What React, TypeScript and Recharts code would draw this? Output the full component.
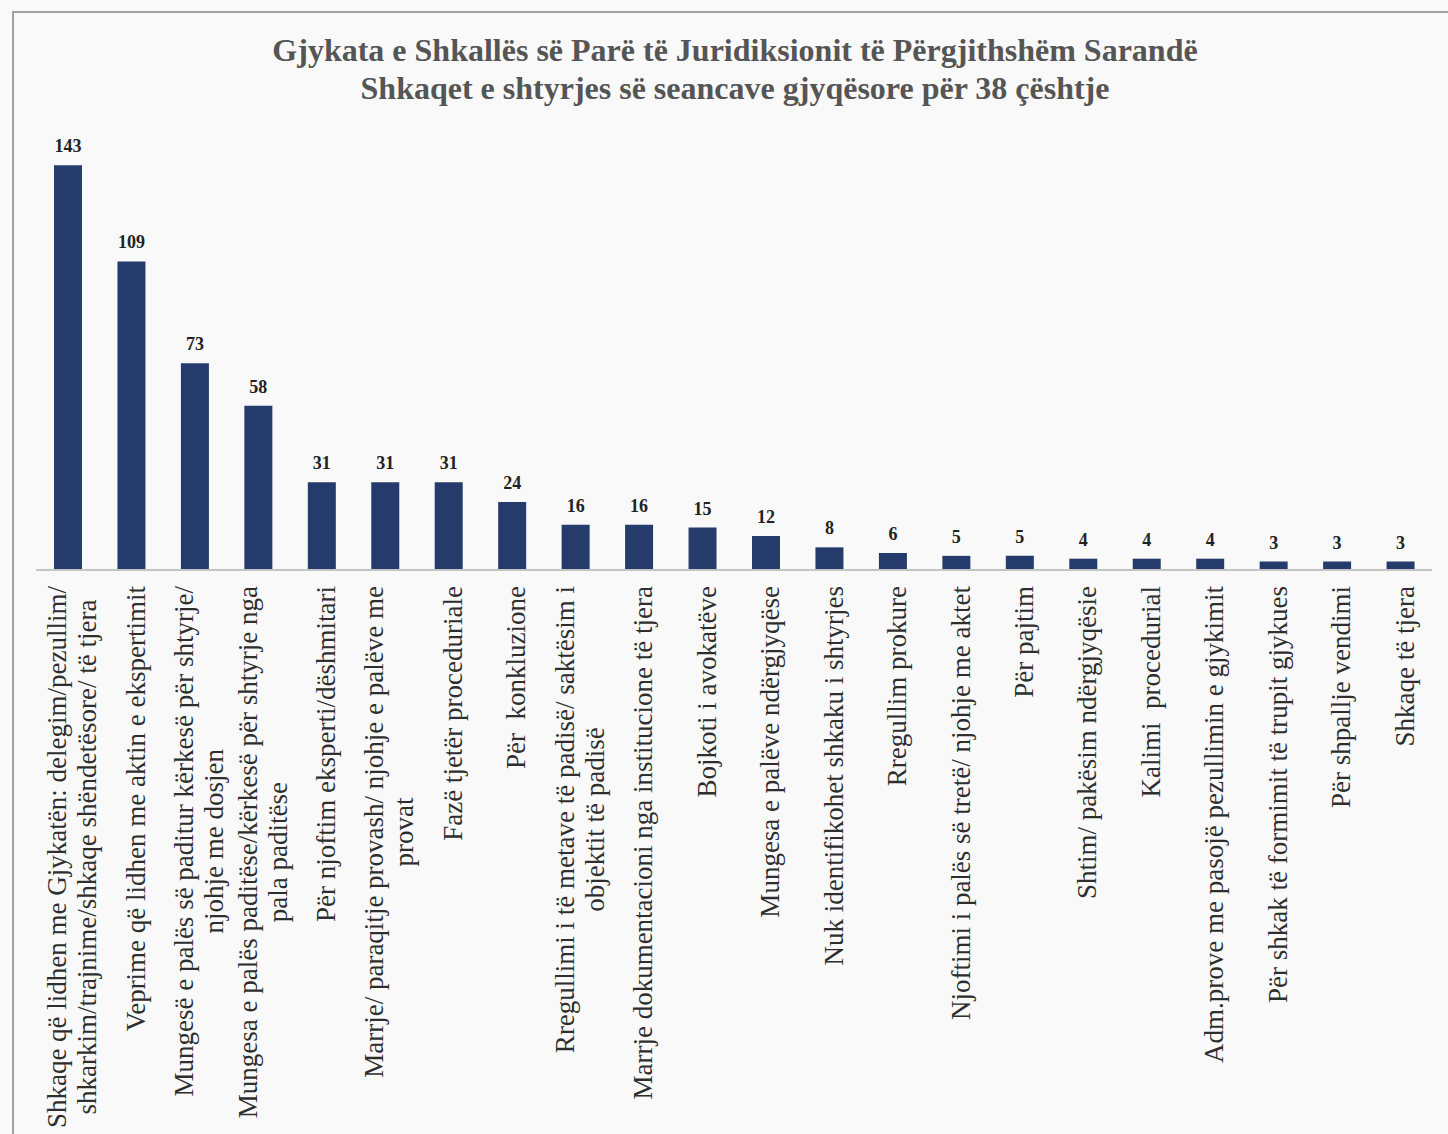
import React from "react";
import { BarChart, Bar, XAxis, YAxis, LabelList } from "recharts";

// categories; "\n" marks where the original label wraps
const categories = [
  "Shkaqe që lidhen me Gjykatën: delegim/pezullim/\nshkarkim/trajnime/shkaqe shëndetësore/ të tjera",
  "Veprime që lidhen me aktin e ekspertimit",
  "Mungesë e palës së paditur kërkesë për shtyrje/\nnjohje me dosjen",
  "Mungesa e palës paditëse/kërkesë për shtyrje nga\npala paditëse",
  "Për njoftim eksperti/dëshmitari",
  "Marrje/ paraqitje provash/ njohje e palëve me\nprovat",
  "Fazë tjetër proceduriale",
  "Për  konkluzione",
  "Rregullimi i të metave të padisë/ saktësim i\nobjektit të padisë",
  "Marrje dokumentacioni nga institucione të tjera",
  "Bojkoti i avokatëve",
  "Mungesa e palëve ndërgjyqëse",
  "Nuk identifikohet shkaku i shtyrjes",
  "Rregullim prokure",
  "Njoftimi i palës së tretë/ njohje me aktet",
  "Për pajtim",
  "Shtim/ pakësim ndërgjyqësie",
  "Kalimi  procedurial",
  "Adm.prove me pasojë pezullimin e gjykimit",
  "Për shkak të formimit të trupit gjykues",
  "Për shpallje vendimi",
  "Shkaqe të tjera",
];

const counts = [143, 109, 73, 58, 31, 31, 31, 24, 16, 16, 15, 12, 8, 6, 5, 5, 4, 4, 4, 3, 3, 3];

const titleLines = [
  "Gjykata e Shkallës së Parë të Juridiksionit të Përgjithshëm Sarandë",
  "Shkaqet e shtyrjes së seancave gjyqësore për 38 çështje",
];

const data = categories.map((name, i) => ({ name, value: counts[i] }));

const SERIF = "'Liberation Serif', 'Times New Roman', serif";
const TICK_FONT = 27;

let ctx: CanvasRenderingContext2D | null = null;
function textWidth(s: string) {
  if (!ctx) ctx = document.createElement("canvas").getContext("2d");
  if (!ctx) return s.length * 12;
  ctx.font = `${TICK_FONT}px ${SERIF}`;
  return ctx.measureText(s).width;
}

function WrappedTick(props: any) {
  const { x, y, payload } = props;
  const lines: string[] = String(payload.value).split("\n");
  const maxLen = Math.max(...lines.map(textWidth));
  const lh = 30;
  return (
    <g transform={`translate(${x + 4},${y + 16}) rotate(-90)`}>
      {lines.map((l, i) => (
        <text
          key={i}
          x={-maxLen / 2}
          y={(i - (lines.length - 1) / 2) * lh}
          dy="0.35em"
          textAnchor="middle"
          fontFamily={SERIF}
          fontSize={TICK_FONT}
          fill="#2e2e2e"
          style={{ whiteSpace: "pre" }}
        >
          {l}
        </text>
      ))}
    </g>
  );
}

export default function App() {
  return (
    <div
      style={{
        position: "absolute",
        left: 0,
        top: 0,
        width: 1448,
        height: 1134,
        background: "#f9f9f9",
        overflow: "hidden",
      }}
    >
      <div
        style={{
          position: "absolute",
          left: 12,
          top: 11,
          right: 0,
          bottom: 0,
          borderLeft: "2px solid #a0a0a0",
          borderTop: "2px solid #a0a0a0",
        }}
      />
      <div
        style={{
          position: "absolute",
          left: 0,
          width: 1470,
          top: 31,
          textAlign: "center",
          fontFamily: SERIF,
          fontWeight: "bold",
          fontSize: 32,
          lineHeight: "38px",
          color: "#555",
        }}
      >
        {titleLines.map((t) => (
          <div key={t}>{t}</div>
        ))}
      </div>
      <div style={{ position: "absolute", left: 0, top: 0 }}>
        <BarChart
          width={1448}
          height={1134}
          data={data}
          margin={{ top: 117, right: 16, left: 36, bottom: 0 }}
          barCategoryGap={0}
        >
          <XAxis
            dataKey="name"
            interval={0}
            height={564}
            tickLine={false}
            tickSize={0}
            tickMargin={0}
            axisLine={{ stroke: "#c4c4c4", strokeWidth: 2 }}
            tick={<WrappedTick />}
          />
          <YAxis hide domain={[0, 160]} />
          <Bar dataKey="value" fill="#243b6c" barSize={28} isAnimationActive={false}>
            <LabelList
              dataKey="value"
              position="top"
              offset={13}
              fontFamily={SERIF}
              fontWeight="bold"
              fontSize={18}
              fill="#222"
            />
          </Bar>
        </BarChart>
      </div>
    </div>
  );
}
